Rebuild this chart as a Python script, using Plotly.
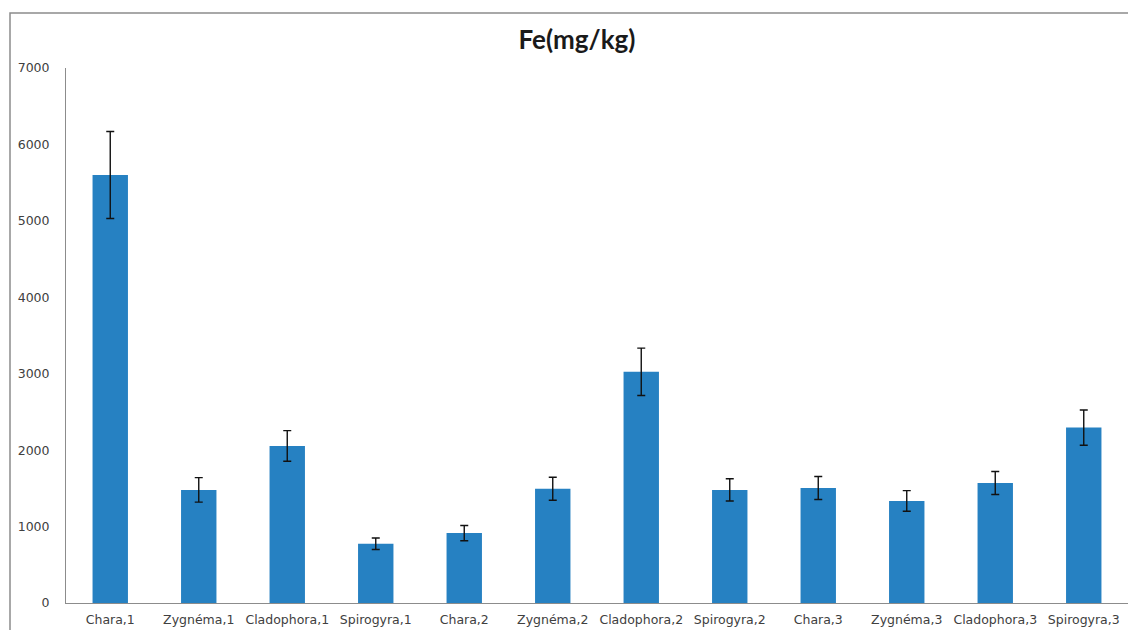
import plotly.graph_objects as go

categories = ["Chara,1", "Zygnéma,1", "Cladophora,1", "Spirogyra,1",
              "Chara,2", "Zygnéma,2", "Cladophora,2", "Spirogyra,2",
              "Chara,3", "Zygnéma,3", "Cladophora,3", "Spirogyra,3"]
fe_values = [5600, 1480, 2055, 775, 915, 1495, 3025, 1480, 1505, 1335, 1570, 2295]
fe_errors = [570, 160, 200, 75, 100, 150, 310, 145, 150, 135, 150, 230]
y_ticks = [0, 1000, 2000, 3000, 4000, 5000, 6000, 7000]

OFF = 8  # page body margin
W, H = 1136 - OFF, 630 - OFF
L, R, T, B = 66 - OFF, 8, 68 - OFF, 27
pw, ph = W - L - R, H - T - B

tick_font = dict(family="DejaVu Sans, Verdana, sans-serif", size=12.5, color="#404040")

fig = go.Figure()
fig.add_trace(go.Bar(
    x=categories, y=fe_values,
    marker=dict(color="#2681c2", line=dict(width=0)),
    error_y=dict(type="data", array=fe_errors, visible=True,
                 color="#111111", thickness=1.4, width=4),
))

fig.update_layout(
    width=W, height=H,
    margin=dict(l=L, r=R, t=T, b=B, autoexpand=False),
    paper_bgcolor="white", plot_bgcolor="white",
    bargap=0.6,
    showlegend=False,
    font=dict(family="Lato, Open Sans, sans-serif", size=12, color="#404040"),
    title=dict(text="<b>Fe(mg/kg)</b>", x=(577 - OFF) / W, xanchor="center",
               y=1 - (40 - OFF) / H, yanchor="middle",
               font=dict(family="Lato, Open Sans, sans-serif", size=26, color="#1a1a1a")),
    xaxis=dict(showgrid=False, showline=True, linecolor="#8c8c8c", linewidth=1,
               ticks="", tickfont=tick_font, ticklabelstandoff=5, automargin=False),
    yaxis=dict(range=[0, 7000], tickvals=y_ticks, showgrid=False, zeroline=False,
               showline=True, linecolor="#8c8c8c", linewidth=1, ticks="",
               tickfont=tick_font, ticklabelstandoff=13, automargin=False),
    shapes=[dict(type="rect", xref="paper", yref="paper",
                 x0=(10 - OFF - L) / pw, x1=(W + 20 - L) / pw,
                 y0=-(B + 20) / ph, y1=1 + (T - (13 - OFF)) / ph,
                 line=dict(color="#8c8c8c", width=1.5), layer="below")],
)

fig.write_html("out.html")
